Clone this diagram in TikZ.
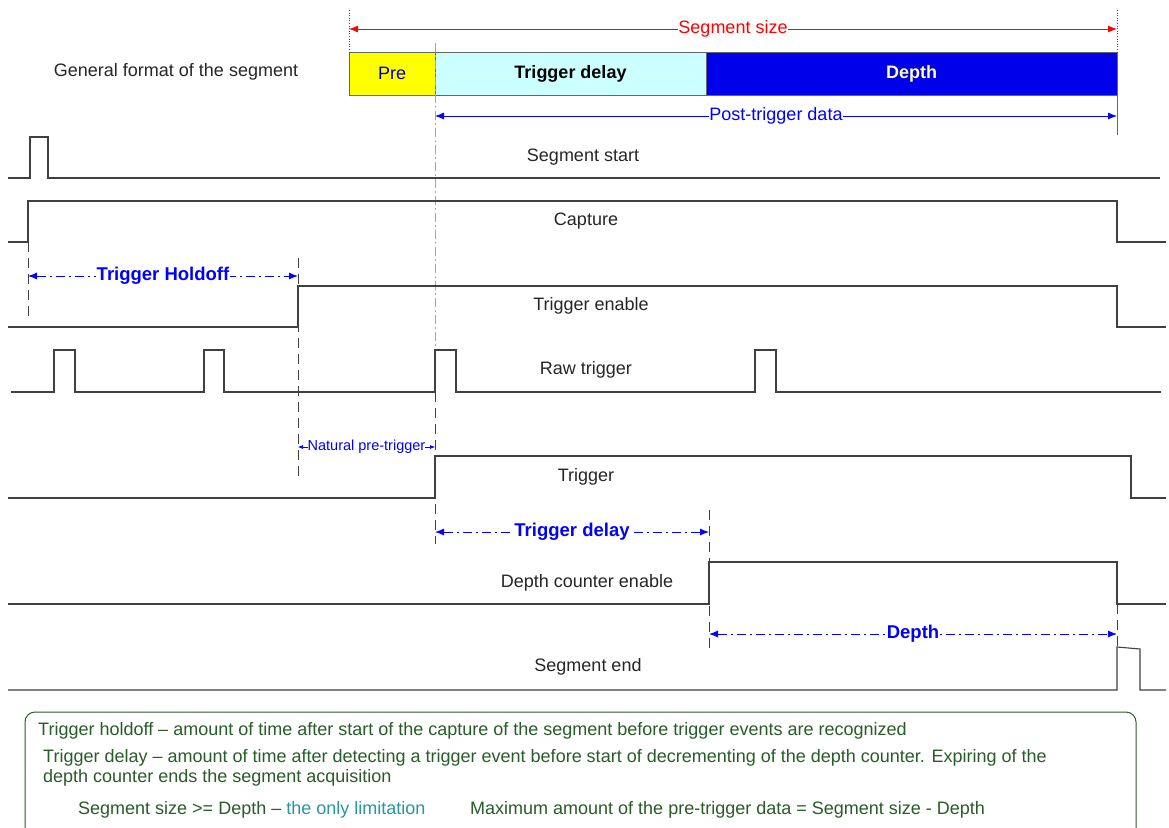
\documentclass[tikz,border=0pt]{standalone}
\usepackage{fontspec}
\setmainfont{Liberation Sans}
\usetikzlibrary{arrows.meta}
\definecolor{prefill}{RGB}{255,255,0}
\definecolor{delayfill}{RGB}{204,255,255}
\definecolor{depthfill}{RGB}{0,0,235}
\definecolor{depthtext}{RGB}{255,255,160}
\definecolor{notegreen}{RGB}{40,92,40}
\definecolor{noteteal}{RGB}{40,150,160}
\definecolor{trigline}{RGB}{120,190,160}

\begin{document}
\begin{tikzpicture}[x=1pt,y=-1pt]
    \tikzstyle{wave}=[draw=black!75, line width=1.1pt]
    \tikzstyle{signame}=[font=\fontsize{18}{20}\selectfont, text=black!85]
    \tikzstyle{segpart}=[draw=black!60, line width=0.8pt, anchor=north west, minimum height=43, outer sep=0pt, inner sep=0pt, font=\fontsize{18}{20}\selectfont]
    \tikzstyle{dim}=[blue, line width=0.9pt, dash pattern=on 9pt off 4pt on 2pt off 4pt, {Latex[length=9pt,width=7pt]}-{Latex[length=9pt,width=7pt]}]
    \tikzstyle{dimlabel}=[fill=white, inner sep=1pt, text=blue, font=\fontsize{18.5}{20}\bfseries\selectfont]
    \tikzstyle{marker}=[black!75, line width=1pt, dash pattern=on 10pt off 6pt]
    \tikzstyle{note}=[anchor=west, text=notegreen, font=\fontsize{18}{20}\selectfont, inner sep=0pt]
    \useasboundingbox (0,0) rectangle (1169,827);
    \fill[white] (0,0) rectangle (1169,827);

    % general format of the segment
    \node[signame] (fmt) at (176,72) {General format of the segment};
    \node[segpart, fill=prefill, minimum width=86, text=blue!70!black] (pre) at (349,52) {Pre};
    \node[segpart, fill=delayfill, minimum width=271, font=\fontsize{18}{20}\bfseries\selectfont] (delay) at (435,52) {Trigger delay};
    \node[segpart, fill=depthfill, minimum width=411, text=depthtext, font=\fontsize{18}{20}\bfseries\selectfont] (depth) at (706,52) {Depth};
    \draw[red, dotted, line width=0.6pt] (349,10) -- (pre.north west);
    \draw[red, dotted, line width=0.6pt] (1117,10) -- (depth.north east);
    \coordinate (ss1) at (349,29);
    \coordinate (ss2) at (1117,29);
    \draw[red, line width=0.8pt, {Latex[length=9pt,width=7pt]}-{Latex[length=9pt,width=7pt]}] (ss1) -- node[fill=white, inner sep=0pt, text=red, font=\fontsize{18}{20}\selectfont] (sslabel) {Segment size} (ss2);
    \draw[black!60, line width=1pt] (depth.south east) -- (1117,135);
    \coordinate (pt1) at (435,116);
    \coordinate (pt2) at (1117,116);
    \draw[blue, line width=0.8pt, {Latex[length=9pt,width=7pt]}-{Latex[length=9pt,width=7pt]}] (pt1) -- node[fill=white, inner sep=0pt, text=blue, font=\fontsize{18}{20}\selectfont] (ptlabel) {Post-trigger data} (pt2);
    \draw[trigline, line width=1pt, dash pattern=on 9pt off 3pt on 2pt off 3pt] (435,43) -- (435,350);

    % signals
    \draw[wave] (8,178) -- (30,178) -- (30,137) -- (48,137) -- (48,178) -- (1160,178);
    \node[signame] (sstart) at (583,157) {Segment start};
    \draw[wave] (8,242) -- (28,242) -- (28,201) -- (1117,201) -- (1117,242) -- (1166,242);
    \node[signame] (capture) at (586,221) {Capture};
    \draw[wave] (8,327) -- (298,327) -- (298,286) -- (1117,286) -- (1117,327) -- (1166,327);
    \node[signame] (tenable) at (591,306) {Trigger enable};
    \draw[wave] (11,392) -- (54,392) -- (54,350) -- (75,350) -- (75,392)
        -- (204,392) -- (204,350) -- (224,350) -- (224,392)
        -- (435,392) -- (435,350) -- (456,350) -- (456,392)
        -- (755,392) -- (755,350) -- (776,350) -- (776,392) -- (1161,392);
    \node[signame] (raw) at (586,370) {Raw trigger};
    \draw[wave] (8,498) -- (435,498) -- (435,456) -- (1131,456) -- (1131,498) -- (1166,498);
    \node[signame] (trig) at (586,477) {Trigger};
    \draw[wave] (8,604) -- (709,604) -- (709,562) -- (1117,562) -- (1117,604) -- (1166,604);
    \node[signame] (dcenable) at (587,583) {Depth counter enable};
    \draw[wave] (8,690) -- (1117,690) -- (1117,647) -- (1140,649) -- (1140,690) -- (1166,690);
    \node[signame] (send) at (588,667) {Segment end};

    % markers and intervals
    \draw[marker] (28,242) -- (28,316);
    \draw[marker] (298,258) -- (298,478);
    \draw[marker] (435,392) -- (435,544);
    \draw[marker] (709,510) -- (709,650);
    \draw[marker] (1117,604) -- (1117,652);
    \coordinate (ho1) at (28,276);
    \coordinate (ho2) at (298,276);
    \draw[dim] (ho1) -- node[dimlabel] (holabel) {Trigger Holdoff} (ho2);
    \coordinate (np1) at (298,447);
    \coordinate (np2) at (435,447);
    \draw[blue, line width=0.6pt, {Latex[length=5pt,width=4pt]}-{Latex[length=5pt,width=4pt]}] (np1) -- node[fill=white, inner sep=0pt, text=blue, font=\fontsize{14.5}{16}\selectfont] (nplabel) {Natural pre-trigger} (np2);
    \coordinate (td1) at (435,532);
    \coordinate (td2) at (709,532);
    \draw[dim] (td1) -- node[dimlabel] (tdlabel) {Trigger delay} (td2);
    \coordinate (dp1) at (709,634);
    \coordinate (dp2) at (1117,634);
    \draw[dim] (dp1) -- node[dimlabel] (dplabel) {Depth} (dp2);

    % notes
    \draw[notegreen, line width=1pt, rounded corners=10pt] (25,850) -- (25,712) -- (1136,712) -- (1136,850);
    \node[note] (n1) at (38,731) {Trigger holdoff -- amount of time after start of the capture of the segment before trigger events are recognized};
    \node[note] (n2) at (43,758) {Trigger delay -- amount of time after detecting a trigger event before start of decrementing of the depth counter. Expiring of the};
    \node[note] (n3) at (43,778) {depth counter ends the segment acquisition};
    \node[note] (n4) at (78,810) {Segment size >= Depth -- \textcolor{noteteal}{the only limitation}};
    \node[note] (n5) at (470,810) {Maximum amount of the pre-trigger data = Segment size - Depth};
\end{tikzpicture}
\end{document}
